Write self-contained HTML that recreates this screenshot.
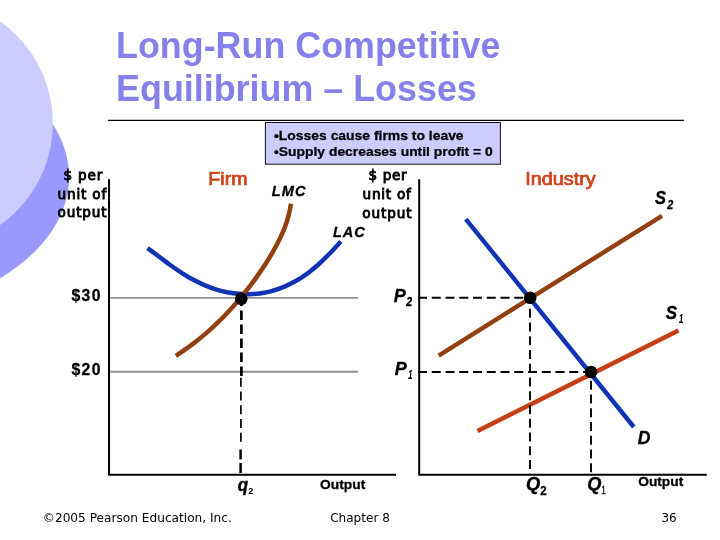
<!DOCTYPE html>
<html lang="en">
<head>
<meta charset="utf-8">
<title>Long-Run Competitive Equilibrium – Losses</title>
<style>
html,body{margin:0;padding:0;background:#fff;}
body{width:720px;height:540px;overflow:hidden;position:relative;}
svg{position:absolute;left:0;top:0;display:block;}

</style>
</head>
<body>
<svg width="720" height="540" viewBox="0 0 720 540">
<!-- decorative circles -->
<ellipse cx="-151.2" cy="176.9" rx="220.3" ry="139.3" fill="#9999ff"/>
<circle cx="-71.6" cy="123.2" r="124.5" fill="#ccccff"/>

<!-- title rule -->
<line x1="107.9" y1="120.4" x2="683.9" y2="120.4" stroke="#000" stroke-width="1.15"/>

<!-- note box -->
<rect x="265.4" y="122.5" width="235" height="41.7" fill="#ccccff" stroke="#111" stroke-width="1"/>

<!-- firm panel -->
<g id="firm">
<line x1="109" y1="297.9" x2="358" y2="297.9" stroke="#909090" stroke-width="1.9"/>
<line x1="109" y1="371.8" x2="358" y2="371.8" stroke="#909090" stroke-width="1.9"/>
<path d="M109 179.2 V474.85 H396" fill="none" stroke="#000" stroke-width="2"/>
<path d="M147.5 248.1 C151.3 250.9 155.1 253.7 158.9 256.5 C162.7 259.3 166.4 262.3 170.2 265.0 C174.0 267.7 177.8 270.4 181.6 272.8 C185.4 275.2 189.2 277.6 193.0 279.6 C196.8 281.7 200.6 283.5 204.4 285.1 C208.2 286.7 211.9 288.1 215.7 289.3 C219.5 290.5 223.3 291.4 227.1 292.2 C230.9 292.9 234.7 293.5 238.5 293.8 C242.3 294.1 246.0 294.3 249.8 294.2 C253.6 294.1 257.4 293.8 261.2 293.2 C265.0 292.6 268.8 291.9 272.6 290.8 C276.4 289.8 280.1 288.5 283.9 286.9 C287.7 285.3 291.5 283.4 295.3 281.3 C299.1 279.2 302.9 276.8 306.7 274.0 C310.5 271.2 314.3 268.1 318.1 264.7 C321.9 261.3 325.6 257.7 329.4 253.8 C333.2 249.9 337.0 245.6 340.8 241.5" fill="none" stroke="#1034b4" stroke-width="4.5"/>
<path d="M175.9 355.8 C181.5 351.9 187.4 348.0 192.6 344.1 C197.8 340.2 202.6 336.3 207.1 332.4 C211.6 328.5 215.7 324.6 219.7 320.7 C223.7 316.8 227.3 312.9 230.9 309.0 C234.5 305.1 237.8 301.2 241.0 297.3 C244.2 293.4 247.3 289.5 250.3 285.6 C253.3 281.7 256.1 277.8 258.8 273.9 C261.5 270.0 264.1 266.1 266.6 262.2 C269.1 258.3 271.4 254.4 273.6 250.5 C275.8 246.6 277.9 242.7 279.8 238.8 C281.7 234.9 283.4 231.0 284.9 227.1 C286.4 223.2 287.6 219.3 288.6 215.4 C289.6 211.5 290.2 207.6 291.0 203.7" fill="none" stroke="#924010" stroke-width="4.5"/>
<line x1="241.4" y1="296.5" x2="241.4" y2="376" stroke="#000" stroke-width="2.7" stroke-dasharray="9.5 4.5"/>
<line x1="240.9" y1="377.8" x2="240.9" y2="446" stroke="#000" stroke-width="1.7" stroke-dasharray="9 4.75"/>
<line x1="240.6" y1="449.5" x2="240.6" y2="474" stroke="#000" stroke-width="2.5" stroke-dasharray="10 3.5"/>
<circle cx="241.3" cy="298.7" r="6.3" fill="#000"/>
</g>

<!-- industry panel -->
<g id="industry">
<path d="M419.2 179.2 V474.85 H706.8" fill="none" stroke="#000" stroke-width="2"/>
<line x1="438.7" y1="355.6" x2="662" y2="215.8" stroke="#924010" stroke-width="4.5"/>
<line x1="477.5" y1="431" x2="678.5" y2="330.5" stroke="#c63e14" stroke-width="4.5"/>
<line x1="465.8" y1="219.1" x2="633.8" y2="427" stroke="#1034b4" stroke-width="4.4"/>
<line x1="418" y1="297.8" x2="530" y2="297.8" stroke="#000" stroke-width="1.9" stroke-dasharray="9 4.75"/>
<line x1="418" y1="372" x2="591" y2="372" stroke="#000" stroke-width="1.9" stroke-dasharray="9 4.75"/>
<line x1="530" y1="298" x2="530" y2="474" stroke="#000" stroke-width="1.9" stroke-dasharray="9 4.75" stroke-dashoffset="3"/>
<line x1="591" y1="372" x2="591" y2="474" stroke="#000" stroke-width="1.9" stroke-dasharray="9 4.75" stroke-dashoffset="5"/>
<circle cx="530.2" cy="297.8" r="6.3" fill="#000"/>
<circle cx="591.1" cy="372" r="6.3" fill="#000"/>
</g>

<g id="labels">
<text transform="translate(116.06 58.30) scale(0.9963 1)" font-family='"Liberation Sans",sans-serif' font-size="36" font-weight="bold" fill="#8681ea">Long-Run Competitive</text>
<text transform="translate(116.06 101.00) scale(0.9967 1)" font-family='"Liberation Sans",sans-serif' font-size="36" font-weight="bold" fill="#8681ea">Equilibrium – Losses</text>
<text transform="translate(273.97 139.70) scale(1.1599 1)" font-family='"Liberation Sans",sans-serif' font-size="12" font-weight="bold" stroke="#000" stroke-width="0.25">•Losses cause firms to leave</text>
<text transform="translate(273.97 156.40) scale(1.1563 1)" font-family='"Liberation Sans",sans-serif' font-size="12" font-weight="bold" stroke="#000" stroke-width="0.25">•Supply decreases until profit = 0</text>
<text transform="translate(63.58 179.60) scale(1.1200 1)" font-family='"DejaVu Sans Condensed","DejaVu Sans",sans-serif' font-size="13.5" letter-spacing="0.701" stroke="#000" stroke-width="0.8">$ per</text>
<text transform="translate(57.58 198.50) scale(1.1200 1)" font-family='"DejaVu Sans Condensed","DejaVu Sans",sans-serif' font-size="13.5" letter-spacing="0.721" stroke="#000" stroke-width="0.8">unit of</text>
<text transform="translate(57.50 217.20) scale(1.1200 1)" font-family='"DejaVu Sans Condensed","DejaVu Sans",sans-serif' font-size="13.5" letter-spacing="0.754" stroke="#000" stroke-width="0.8">output</text>
<text transform="translate(208.36 184.70) scale(1.1190 1)" font-family='"Liberation Sans",sans-serif' font-size="17.5" fill="#cc4218" stroke="#cc4218" stroke-width="0.7">Firm</text>
<text transform="translate(271.76 195.70) scale(0.9400 1)" font-family='"Liberation Sans",sans-serif' font-size="15.5" font-weight="bold" font-style="italic" letter-spacing="1.226" stroke="#000" stroke-width="0.3">LMC</text>
<text transform="translate(333.06 237.40) scale(0.9400 1)" font-family='"Liberation Sans",sans-serif' font-size="15.5" font-weight="bold" font-style="italic" letter-spacing="0.968" stroke="#000" stroke-width="0.3">LAC</text>
<text transform="translate(71.48 301.40) scale(0.9400 1)" font-family='"Liberation Sans",sans-serif' font-size="16.8" font-weight="bold" letter-spacing="1.399" stroke="#000" stroke-width="0.3">$30</text>
<text transform="translate(71.48 375.40) scale(0.9400 1)" font-family='"Liberation Sans",sans-serif' font-size="16.8" font-weight="bold" letter-spacing="1.399" stroke="#000" stroke-width="0.3">$20</text>
<text transform="translate(237.63 491.40) scale(0.9463 1)" font-family='"Liberation Sans",sans-serif' font-size="18" font-weight="bold" font-style="italic" stroke="#000" stroke-width="0.35">q</text>
<text transform="translate(248.24 494.40) scale(1.0222 1)" font-family='"Liberation Sans",sans-serif' font-size="9" font-weight="bold">2</text>
<text transform="translate(320.09 488.80) scale(1.0227 1)" font-family='"Liberation Sans",sans-serif' font-size="13.5" font-weight="bold" stroke="#000" stroke-width="0.3">Output</text>
<text transform="translate(368.58 179.70) scale(1.1200 1)" font-family='"DejaVu Sans Condensed","DejaVu Sans",sans-serif' font-size="13.5" letter-spacing="0.567" stroke="#000" stroke-width="0.8">$ per</text>
<text transform="translate(362.58 198.70) scale(1.1200 1)" font-family='"DejaVu Sans Condensed","DejaVu Sans",sans-serif' font-size="13.5" letter-spacing="0.676" stroke="#000" stroke-width="0.8">unit of</text>
<text transform="translate(362.30 217.50) scale(1.1200 1)" font-family='"DejaVu Sans Condensed","DejaVu Sans",sans-serif' font-size="13.5" letter-spacing="0.790" stroke="#000" stroke-width="0.8">output</text>
<text transform="translate(525.30 185.00) scale(1.1325 1)" font-family='"Liberation Sans",sans-serif' font-size="17.5" fill="#cc4218" stroke="#cc4218" stroke-width="0.7">Industry</text>
<text transform="translate(654.89 203.90) scale(0.9191 1)" font-family='"Liberation Sans",sans-serif' font-size="18" font-weight="bold" font-style="italic" stroke="#000" stroke-width="0.35">S</text>
<text transform="translate(667.33 208.75) scale(0.9018 1)" font-family='"Liberation Sans",sans-serif' font-size="12" font-weight="bold" font-style="italic" stroke="#000" stroke-width="0.35">2</text>
<text transform="translate(665.68 318.70) scale(0.9447 1)" font-family='"Liberation Sans",sans-serif' font-size="18" font-weight="bold" font-style="italic" stroke="#000" stroke-width="0.35">S</text>
<text transform="translate(678.81 322.80) scale(0.7000 1)" font-family='"Liberation Sans",sans-serif' font-size="12" font-weight="bold" font-style="italic">1</text>
<text transform="translate(393.65 301.60) scale(1.0021 1)" font-family='"Liberation Sans",sans-serif' font-size="18" font-weight="bold" font-style="italic" stroke="#000" stroke-width="0.35">P</text>
<text transform="translate(406.32 305.80) scale(0.8873 1)" font-family='"Liberation Sans",sans-serif' font-size="12" font-weight="bold" font-style="italic" stroke="#000" stroke-width="0.35">2</text>
<text transform="translate(394.75 374.80) scale(1.0021 1)" font-family='"Liberation Sans",sans-serif' font-size="18" font-weight="bold" font-style="italic" stroke="#000" stroke-width="0.35">P</text>
<text transform="translate(408.01 379.00) scale(0.6833 1)" font-family='"Liberation Sans",sans-serif' font-size="12" font-weight="bold" font-style="italic">1</text>
<text transform="translate(637.86 443.90) scale(0.9714 1)" font-family='"Liberation Sans",sans-serif' font-size="18" font-weight="bold" font-style="italic" stroke="#000" stroke-width="0.35">D</text>
<text transform="translate(526.01 489.90) scale(1.0175 1)" font-family='"Liberation Sans",sans-serif' font-size="18" font-weight="bold" font-style="italic" stroke="#000" stroke-width="0.35">Q</text>
<text transform="translate(540.14 494.70) scale(0.9532 1)" font-family='"Liberation Sans",sans-serif' font-size="12" font-weight="bold" stroke="#000" stroke-width="0.35">2</text>
<text transform="translate(587.22 489.90) scale(1.0097 1)" font-family='"Liberation Sans",sans-serif' font-size="18" font-weight="bold" font-style="italic" stroke="#000" stroke-width="0.35">Q</text>
<text transform="translate(601.27 494.00) scale(0.7200 1)" font-family='"Liberation Sans",sans-serif' font-size="11.5" stroke="#000" stroke-width="0.3">1</text>
<text transform="translate(638.24 485.60) scale(1.0170 1)" font-family='"Liberation Sans",sans-serif' font-size="13.5" font-weight="bold" stroke="#000" stroke-width="0.3">Output</text>
<text transform="translate(42.75 521.70) scale(1.1278 1)" font-family='"DejaVu Sans Condensed","DejaVu Sans",sans-serif' font-size="12">©2005 Pearson Education, Inc.</text>
<text transform="translate(330.14 521.70) scale(1.1195 1)" font-family='"DejaVu Sans Condensed","DejaVu Sans",sans-serif' font-size="12">Chapter 8</text>
<text transform="translate(661.47 521.70) scale(1.1078 1)" font-family='"DejaVu Sans Condensed","DejaVu Sans",sans-serif' font-size="12">36</text>
</g>
</svg>
</body>
</html>
